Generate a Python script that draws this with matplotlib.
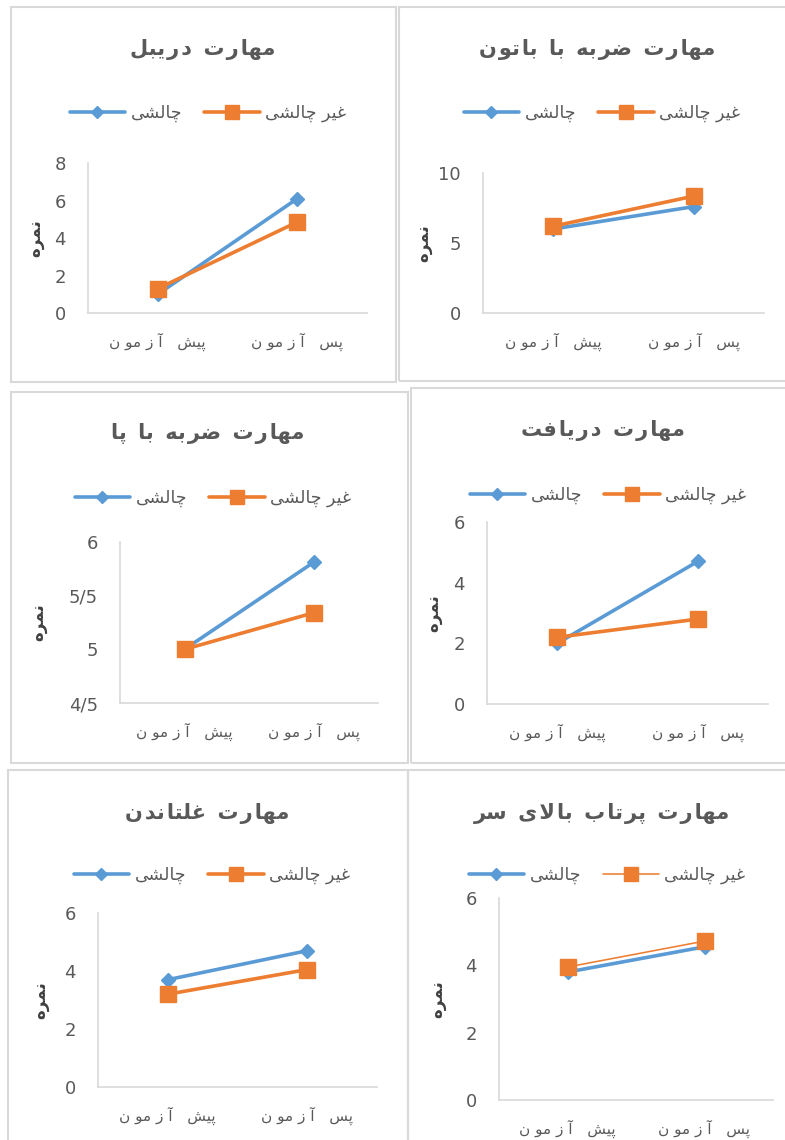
import matplotlib
matplotlib.use('Agg')
import matplotlib.pyplot as plt
from matplotlib.patches import Rectangle
import numpy as np

# data
categories = ['پیش آزمون', 'پس آزمون']
series_names = ['چالشی', 'غیر چالشی']
titles = ['مهارت دریبل', 'مهارت ضربه با باتون', 'مهارت ضربه با پا',
          'مهارت دریافت', 'مهارت غلتاندن', 'مهارت پرتاب بالای سر']
y_label = 'نمره'

dribble_chal = [1.0, 6.1]
dribble_non = [1.3, 4.85]
baton_chal = [6.0, 7.6]
baton_non = [6.2, 8.35]
kick_chal = [5.0, 5.81]
kick_non = [5.0, 5.34]
receive_chal = [2.0, 4.7]
receive_non = [2.2, 2.8]
roll_chal = [3.7, 4.7]
roll_non = [3.2, 4.05]
throw_chal = [3.8, 4.55]
throw_non = [3.95, 4.72]

BLUE = '#5B9BD5'
ORANGE = '#ED7D31'
GRAY = '#595959'
LINE = '#D9D9D9'

# --- minimal arabic/persian shaping (matplotlib draws LTR, no joining) ---
FORMS = {
    '\u0627': ('\uFE8D', '\uFE8E'),
    '\u0622': ('\uFE81', '\uFE82'),
    '\u062F': ('\uFEA9', '\uFEAA'),
    '\u0631': ('\uFEAD', '\uFEAE'),
    '\u0632': ('\uFEAF', '\uFEB0'),
    '\u0648': ('\uFEED', '\uFEEE'),
    '\u0628': ('\uFE8F', '\uFE90', '\uFE91', '\uFE92'),
    '\u067E': ('\uFB56', '\uFB57', '\uFB58', '\uFB59'),
    '\u062A': ('\uFE95', '\uFE96', '\uFE97', '\uFE98'),
    '\u0686': ('\uFB7A', '\uFB7B', '\uFB7C', '\uFB7D'),
    '\u0633': ('\uFEB1', '\uFEB2', '\uFEB3', '\uFEB4'),
    '\u0634': ('\uFEB5', '\uFEB6', '\uFEB7', '\uFEB8'),
    '\u0636': ('\uFEBD', '\uFEBE', '\uFEBF', '\uFEC0'),
    '\u063A': ('\uFECD', '\uFECE', '\uFECF', '\uFED0'),
    '\u0641': ('\uFED1', '\uFED2', '\uFED3', '\uFED4'),
    '\u0644': ('\uFEDD', '\uFEDE', '\uFEDF', '\uFEE0'),
    '\u0645': ('\uFEE1', '\uFEE2', '\uFEE3', '\uFEE4'),
    '\u0646': ('\uFEE5', '\uFEE6', '\uFEE7', '\uFEE8'),
    '\u0647': ('\uFEE9', '\uFEEA', '\uFEEB', '\uFEEC'),
    '\u06CC': ('\uFBFC', '\uFBFD', '\uFBFE', '\uFBFF'),
}
LAM_ALEF = {'\u0627': ('\uFEFB', '\uFEFC'), '\u0622': ('\uFEF5', '\uFEF6')}


def dual(c):
    return c in FORMS and len(FORMS[c]) == 4


def fa(s, gap=''):
    # shape, optionally widen the gaps between unjoined letter groups, then reverse
    s = s.replace('\u064A', '\u06CC')
    out, joins = [], []
    i = 0
    while i < len(s):
        c = s[i]
        jp = i > 0 and dual(s[i - 1])
        if c == '\u0644' and i + 1 < len(s) and s[i + 1] in LAM_ALEF:
            out.append(LAM_ALEF[s[i + 1]][1 if jp else 0])
            joins.append(False)
            i += 2
            continue
        if c not in FORMS:
            out.append(c)
            joins.append(False)
            i += 1
            continue
        jn = dual(c) and i + 1 < len(s) and s[i + 1] in FORMS
        f = FORMS[c]
        if jp and jn:
            out.append(f[3])
        elif jp:
            out.append(f[1])
        elif jn:
            out.append(f[2])
        else:
            out.append(f[0])
        joins.append(jn)
        i += 1
    res = []
    for k, g in enumerate(out):
        res.append(g)
        if gap and k < len(out) - 1 and not joins[k]:
            res.append(gap)
    return ''.join(reversed(res))


W, H = 785, 1140
fig = plt.figure(figsize=(W / 100, H / 100), dpi=100)
plt.rcParams['font.family'] = ['DejaVu Sans']


def fx(x):
    return x / W


def fy(y):
    return 1 - y / H


# border box, axes box, title xy, legend xy, ylabel x (all in pixels)
layout = [
    (dribble_chal, dribble_non, (0, 8), [0, 2, 4, 6, 8], (11, 7, 396, 382), (88, 163, 367, 313), (203, 50), (208, 113), 35, 2.5),
    (baton_chal, baton_non, (0, 10), [0, 5, 10], (399, 7, 792, 381), (483, 173, 764, 313), (597, 50), (602, 113), 423, 2.5),
    (kick_chal, kick_non, (4.5, 6), [4.5, 5, 5.5, 6], (11, 392, 408, 763), (120, 542, 378, 703), (208, 433), (213, 498), 38, 2.5),
    (receive_chal, receive_non, (0, 6), [0, 2, 4, 6], (411, 388, 792, 763), (487, 522, 768, 704), (603, 430), (608, 495), 433, 2.5),
    (roll_chal, roll_non, (0, 6), [0, 2, 4, 6], (8, 770, 408, 1150), (98, 913, 377, 1087), (207, 813), (212, 875), 40, 2.5),
    (throw_chal, throw_non, (0, 6), [0, 2, 4, 6], (408, 770, 792, 1150), (499, 898, 773, 1100), (602, 813), (607, 875), 437, 1.1),
]

x = np.arange(len(categories))
for title, (chal, non, ylim, yticks, box, abox, tpos, lpos, ylx, olw) in zip(titles, layout):
    bx0, by0, bx1, by1 = box
    fig.add_artist(Rectangle((fx(bx0), fy(by1)), (bx1 - bx0) / W, (by1 - by0) / H,
                             transform=fig.transFigure, fill=False, ec=LINE, lw=1.5))
    ax0, ay0, ax1, ay1 = abox
    ax = fig.add_axes([fx(ax0), fy(ay1), (ax1 - ax0) / W, (ay1 - ay0) / H])
    l1, = ax.plot(x, chal, color=BLUE, lw=2.6, marker='D', ms=7.5, mec=BLUE,
                  solid_capstyle='round', label=fa(series_names[0]))
    l2, = ax.plot(x, non, color=ORANGE, lw=olw * 1.04, marker='s', ms=12, mec=ORANGE,
                  solid_capstyle='round', label=fa(series_names[1]))
    ax.set_xlim(-0.5, 1.5)
    ax.set_ylim(*ylim)
    ax.set_yticks(yticks)
    ax.set_yticklabels([f'{v:g}'.replace('.', '/') for v in yticks])
    ax.set_xticks(x)
    ax.set_xticklabels([fa(c, ' ') for c in categories])
    for s in ['top', 'right']:
        ax.spines[s].set_visible(False)
    for s in ['left', 'bottom']:
        ax.spines[s].set_color(LINE)
        ax.spines[s].set_linewidth(1.2)
    ax.tick_params(axis='y', length=0, pad=16, labelsize=13, labelcolor=GRAY)
    ax.tick_params(axis='x', length=0, pad=14, labelsize=11, labelcolor=GRAY)
    ax.set_facecolor('none')
    ax.set_ylabel(fa(y_label), fontsize=12, fontweight='bold', color='#404040', va='center')
    ax.yaxis.set_label_coords((ylx - ax0) / (ax1 - ax0), 0.5)
    fig.text(fx(tpos[0]), fy(tpos[1]), fa(title, '\u200A'), ha='center', va='center',
             fontsize=15, fontweight='bold', color=GRAY)
    ax.legend(handles=[l1, l2], loc='center', bbox_to_anchor=(fx(lpos[0]), fy(lpos[1])),
              bbox_transform=fig.transFigure, ncol=2, frameon=False, fontsize=12.5,
              labelcolor=GRAY, handlelength=3.2, handletextpad=0.3, columnspacing=1.3,
              markerscale=0.85, borderpad=0, borderaxespad=0)

fig.savefig('out.png', dpi=100)
